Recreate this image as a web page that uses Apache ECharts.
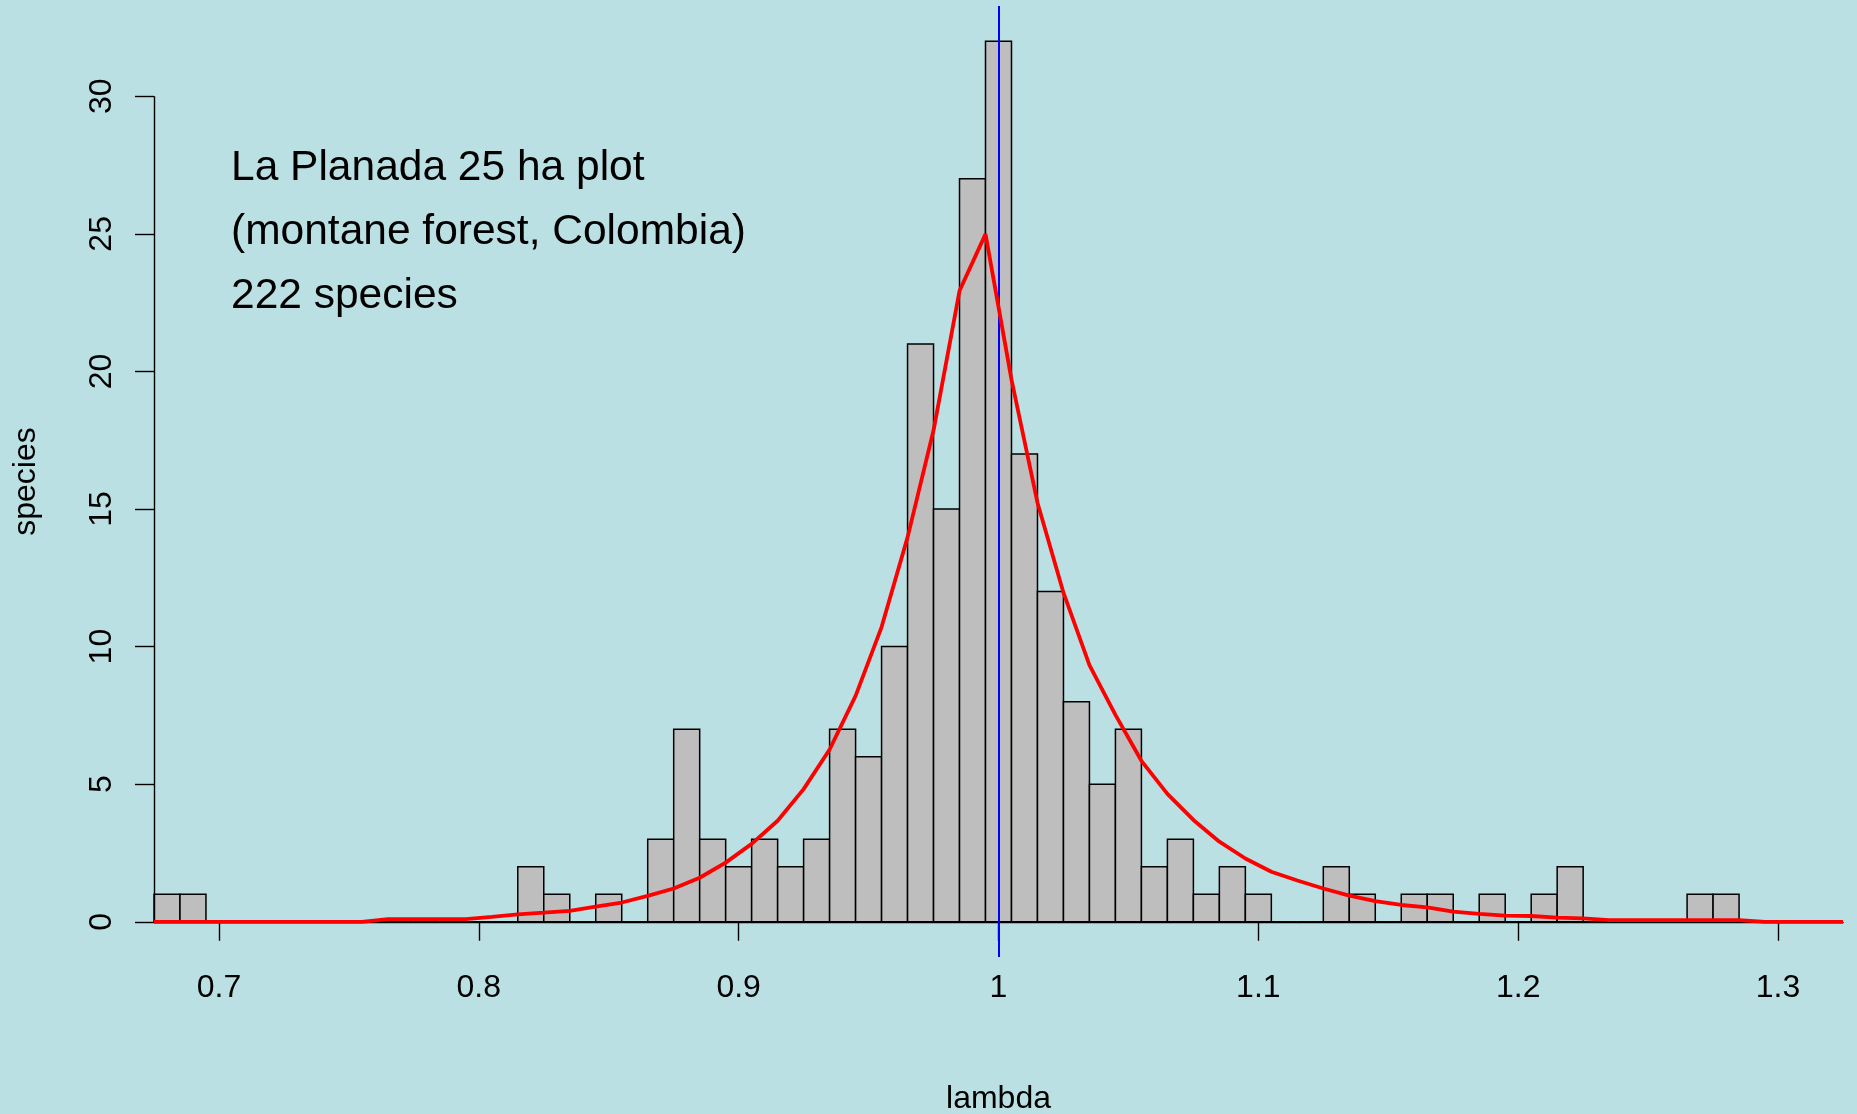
<!DOCTYPE html>
<html>
<head>
<meta charset="utf-8">
<script src="https://cdn.jsdelivr.net/npm/echarts@6/dist/echarts.min.js"></script>
<style>
  html, body { margin: 0; padding: 0; background: #bbe0e3; }
  #chart { width: 1857px; height: 1114px; }
</style>
</head>
<body>
<div id="chart"></div>
<script>
// Histogram bin breaks (lambda)
const breaks = [0.675,0.685,0.695,0.705,0.715,0.725,0.735,0.745,0.755,0.765,0.775,0.785,0.795,0.805,0.815,0.825,0.835,0.845,0.855,0.865,0.875,0.885,0.895,0.905,0.915,0.925,0.935,0.945,0.955,0.965,0.975,0.985,0.995,1.005,1.015,1.025,1.035,1.045,1.055,1.065,1.075,1.085,1.095,1.105,1.115,1.125,1.135,1.145,1.155,1.165,1.175,1.185,1.195,1.205,1.215,1.225,1.235,1.245,1.255,1.265,1.275,1.285,1.295,1.305,1.315,1.325];
// Species counts per bin
const counts = [1,1,0,0,0,0,0,0,0,0,0,0,0,0,
  2,1,0,1,0,3,7,3,2,3, 2,3,7,6,10,21,15,27,32,17, 12,8,5,7,2,3,1,2,1,0,
  0,2,1,0,1,1,0,1,0,1, 2,0,0,0,0,1,1,0,0,0, 0];
// Fitted curve (red), evaluated at the bin breaks
const curveX = breaks;
const curveY = [0,0,0,0,0,0,0,0,0,0.1,0.1,0.1,0.1,0.18,0.27,0.33,0.40,0.55,0.70,0.94,1.21,1.6,2.15,2.83,3.67,4.82,6.26,8.21,10.71,13.97,17.86,22.93,24.99,19.7,15.23,11.96,9.33,7.52,5.85,4.65,3.70,2.91,2.3,1.82,1.5,1.21,0.95,0.75,0.61,0.52,0.37,0.29,0.22,0.21,0.15,0.12,0.06,0.06,0.06,0.06,0.06,0.06,0,0,0,0];
// Axis ticks
const xTicks = [0.7, 0.8, 0.9, 1.0, 1.1, 1.2, 1.3];
const yTicks = [0, 5, 10, 15, 20, 25, 30];
const refLine = 1;
const annotation = ['La Planada 25 ha plot', '(montane forest, Colombia)', '222 species'];

const FONT = '"Liberation Sans", Arial, Helvetica, sans-serif';
const xMin = breaks[0], xMax = breaks[breaks.length - 1];
const cMax = Math.max.apply(null, counts);
const yMin = -0.04 * cMax, yMax = cMax * 1.04;

const barData = counts.map((c, i) => [breaks[i], breaks[i + 1], c]);
const curveData = curveX.map((x, i) => [x, curveY[i]]);

const chart = echarts.init(document.getElementById('chart'), null, { renderer: 'canvas' });
chart.setOption({
  backgroundColor: '#bbe0e3',
  animation: false,
  title: {
    text: annotation.join('\n'),
    left: 231, top: 136, padding: 0,
    textStyle: { fontFamily: FONT, fontSize: 42.5, fontWeight: 'normal', color: '#000', lineHeight: 64 }
  },
  grid: { left: 154, right: 14, top: 6, bottom: 157, containLabel: false, outerBoundsMode: 'none' },
  xAxis: {
    type: 'value', min: xMin, max: xMax,
    name: 'lambda', nameLocation: 'middle', nameGap: 126,
    nameTextStyle: { fontFamily: FONT, fontSize: 32, color: '#000' },
    axisLine: { show: true, onZero: true, lineStyle: { color: '#000', width: 1.4 } },
    axisTick: { show: true, customValues: xTicks, length: 19, lineStyle: { color: '#000', width: 1.4 } },
    axisLabel: { customValues: xTicks, margin: 15, fontFamily: FONT, fontSize: 32, color: '#000' },
    splitLine: { show: false }
  },
  yAxis: {
    type: 'value', min: yMin, max: yMax,
    name: 'species', nameLocation: 'middle', nameGap: 112, nameRotate: 90,
    nameTextStyle: { fontFamily: FONT, fontSize: 32, color: '#000' },
    axisLine: { show: false },
    axisTick: { show: true, customValues: yTicks, length: 19, lineStyle: { color: '#000', width: 1.4 } },
    axisLabel: { customValues: yTicks, rotate: 90, margin: 36, fontFamily: FONT, fontSize: 32, color: '#000' },
    splitLine: { show: false }
  },
  series: [
    {
      type: 'custom',
      data: barData,
      encode: { x: [0, 1], y: 2 },
      renderItem: function (params, api) {
        const p0 = api.coord([api.value(0), api.value(2)]);
        const p1 = api.coord([api.value(1), 0]);
        return {
          type: 'rect',
          shape: { x: p0[0], y: p0[1], width: p1[0] - p0[0], height: p1[1] - p0[1] },
          style: { fill: '#bebebe', stroke: '#000', lineWidth: 1.5 }
        };
      },
      markLine: {
        silent: true, symbol: 'none', label: { show: false }, animation: false,
        data: [
          { xAxis: refLine, lineStyle: { color: '#0000ff', width: 2, type: 'solid' } },
          [
            { coord: [xMin, yTicks[0]], lineStyle: { color: '#000', width: 1.4, type: 'solid' } },
            { coord: [xMin, yTicks[yTicks.length - 1]] }
          ]
        ]
      },
      z: 2
    },
    {
      type: 'line',
      data: curveData,
      symbol: 'none',
      smooth: false,
      lineStyle: { color: '#ff0000', width: 3.8 },
      z: 5
    }
  ]
});
</script>
</body>
</html>
